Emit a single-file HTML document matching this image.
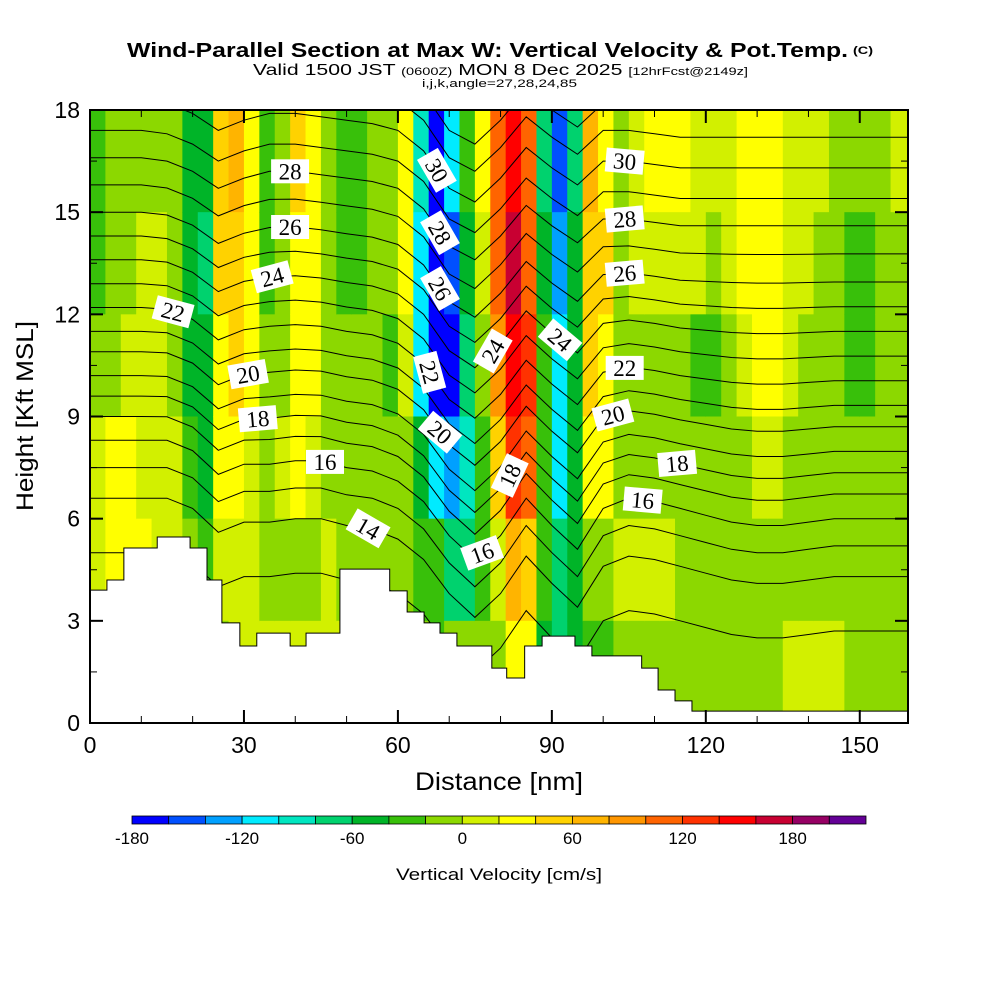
<!DOCTYPE html>
<html><head><meta charset="utf-8"><style>
html,body{margin:0;padding:0;background:#fff;}
svg{display:block;font-family:"Liberation Sans",sans-serif;}
</style></head><body>
<svg id="chart" width="1000" height="1000" viewBox="0 0 1000 1000" xmlns="http://www.w3.org/2000/svg">
<defs><clipPath id="plotclip"><rect x="90" y="110" width="818" height="613"/></clipPath></defs>
<g>
<text x="127" y="57" font-size="20" font-weight="bold" textLength="721" lengthAdjust="spacingAndGlyphs">Wind-Parallel Section at Max W: Vertical Velocity &amp; Pot.Temp.</text>
<text x="853" y="54" font-size="11" font-weight="bold" textLength="20" lengthAdjust="spacingAndGlyphs">(C)</text>
<text x="253" y="75" font-size="16" textLength="495" lengthAdjust="spacingAndGlyphs">Valid 1500 JST <tspan font-size="11">(0600Z)</tspan> MON 8 Dec 2025 <tspan font-size="11">[12hrFcst@2149z]</tspan></text>
<text x="422" y="87" font-size="11" textLength="155" lengthAdjust="spacingAndGlyphs">i,j,k,angle=27,28,24,85</text>
</g>
<g id="cells" clip-path="url(#plotclip)"></g>
<g id="lines" clip-path="url(#plotclip)"></g>
<g id="terrain" clip-path="url(#plotclip)"></g>
<g id="labels" clip-path="url(#plotclip)"></g>
<rect x="90" y="110" width="818" height="613" fill="none" stroke="#000" stroke-width="2"/>
<g id="axes"></g>
<text x="499" y="790" font-size="25" text-anchor="middle" textLength="168" lengthAdjust="spacingAndGlyphs">Distance [nm]</text>
<text transform="translate(33,416) rotate(-90)" font-size="24" text-anchor="middle" textLength="190" lengthAdjust="spacingAndGlyphs">Height [Kft MSL]</text>
<g id="cbar"></g>
<text x="499" y="880" font-size="17" text-anchor="middle" textLength="206" lengthAdjust="spacingAndGlyphs">Vertical Velocity [cm/s]</text>
</svg>
<script>
// ---- data ----
const colWidthNm = 3;
const rowTopsKft = [18,15,12,9,6,3];
const wCols = [
[-30,-30,-10,0,10,10],[-10,-10,-5,25,25,10],[-10,-5,5,25,25,10],[-10,5,5,10,25,10],
[-10,10,10,10,10,10],[-20,-10,-10,5,5,5],[-50,-60,-50,-30,-20,-30],[-50,-70,-60,-50,-40,-40],
[50,40,30,20,5,-20],[60,50,40,30,10,5],[20,20,20,10,0,0],[-40,-30,-20,-10,-10,5],
[-20,-20,-10,0,-10,5],[50,30,30,20,-10,5],[30,20,20,10,-10,10],[-10,-10,-10,-10,5,0],
[-40,-30,-20,-10,-10,0],[-40,-30,-20,-20,-10,-10],[-10,-10,-10,-10,-15,-10],[-10,-20,-30,-20,-20,-30],
[30,20,10,-10,-20,-20],[-100,-110,-120,-60,-40,-20],[-170,-180,-170,-120,-40,-30],[-120,-150,-180,-140,-80,-20],
[-40,-50,-80,-100,-70,-20],[30,10,-20,-30,-30,-10],[110,100,80,40,10,-5],[150,165,150,120,60,30],
[100,110,120,100,50,30],[-80,-60,-40,-30,-30,-50],[-150,-140,-120,-110,-70,-80],[-80,-60,-50,-50,-50,-60],
[60,50,40,20,-10,-40],[30,40,30,20,-5,-30],[-20,-10,-10,-10,0,-20],[10,0,-10,-10,5,-10],
[25,5,-10,-10,5,-10],[25,5,-10,-10,5,-10],[25,10,-10,-10,-10,-10],[10,10,-30,-10,-10,-10],
[10,-10,-30,-10,-10,-10],[10,10,-10,-10,-10,-10],[30,30,10,-10,-10,-10],[30,30,20,10,-10,-10],
[30,30,25,10,-10,-10],[10,10,10,-10,-10,5],[10,5,-10,-10,-10,5],[5,-10,-10,-10,-10,5],
[-10,-10,-10,-10,-10,5],[-10,-30,-30,-10,-10,-10],[-10,-30,-30,-10,-10,-10],[-10,-10,-10,-10,-10,-10],
[5,-10,-10,-10,-10,-10]
];
const binColors = ["#0000ff","#0050ff","#00a0ff","#00ebff","#00e6c0","#00d26e","#00b428","#38c00a","#8cd800","#d2f000",
"#ffff00","#ffd200","#ffb400","#ff9600","#ff6400","#ff3200","#ff0000","#c80032","#960064","#640096"];
const binStart = -180, binStep = 20;
const cbarLabels = [-180,-120,-60,0,60,120,180];
const terrainEdges = [0,3.3,6.6,13.1,19.5,22.8,25.7,29.2,32.5,39,42.1,48.7,58.4,61.8,65.1,68.2,71.5,78.3,81.2,84.7,88.1,94.5,97.8,107.5,110.7,114,117.3,160];
const terrainH = [3.9,4.2,5.14,5.46,5.14,4.2,2.94,2.26,2.64,2.26,2.64,4.52,3.88,3.26,2.94,2.64,2.26,1.61,1.32,2.26,2.55,2.26,1.97,1.61,0.97,0.65,0.35];
const thetaLevels = [13,14,15,16,17,18,19,20,21,22,23,24,25,26,27,28,29,30,31,32];
const thetaBase = [3.0,4.6,5.5,6.3,7.0,7.6,8.2,8.9,9.5,10.2,10.9,11.6,12.3,13.0,13.8,14.6,15.4,16.3,17.2,18.0];
const dispNodes = [0,5,10,15,20,25,30,35,40,45,50,55,60,65,70,75,80,85,90,95,100,105,110,115,120,125,130,135,140,145,150,155,160];
const dispLow = [2.0,2.0,2.0,2.0,1.7,1.0,1.3,1.3,1.4,1.4,1.2,1.1,0.8,0.2,-0.8,-1.5,-0.8,0.3,-0.5,-1.2,0.0,0.3,0.2,0.0,-0.2,-0.4,-0.5,-0.5,-0.4,-0.3,-0.3,-0.3,-0.3];
const dispHigh = [2.0,2.0,2.0,1.9,1.6,1.1,1.4,1.6,1.6,1.5,1.4,1.3,1.1,0.5,-0.6,-1.0,-0.3,0.6,0.0,-0.5,0.2,0.2,0.1,0,0,0,0,0,0,0,0,0,0];
const labelTheta = [28,26,24,22,20,18,16,14,30,28,26,22,20,24,18,16,24,30,28,26,22,20,18,16];
const labelNm = [39,39,35.5,16.2,30.8,32.7,45.8,54.2,67.6,68.2,68.2,66.2,68.2,78.5,81.8,76.4,91.6,104.2,104.2,104.2,104.2,101.9,114.4,107.7];
const labelAngle = [0,0,-15,15,-10,-5,0,30,60,60,60,75,40,-60,-65,-20,40,5,-5,-5,0,-15,-5,5];
const xTicksMajor = [0,30,60,90,120,150];
const yTicksMajor = [0,3,6,9,12,15,18];

// ---- scales ----
const X0=90,X1=908,Y0=723,Y1=110, XMAX=159.4, YMAX=18;
const xs = v => X0 + v*(X1-X0)/XMAX;
const ys = v => Y0 - v*(Y0-Y1)/YMAX;
const NS="http://www.w3.org/2000/svg";
function mk(tag, attrs, parent){const e=document.createElementNS(NS,tag);for(const k in attrs)e.setAttribute(k,attrs[k]);parent.appendChild(e);return e;}
function colorFor(w){let b=Math.floor((w-binStart)/binStep);b=Math.max(0,Math.min(binColors.length-1,b));return binColors[b];}

// cells
const gc=document.getElementById('cells');
wCols.forEach((col,i)=>{
  col.forEach((w,r)=>{
    const x0=xs(i*colWidthNm), x1=xs((i+1)*colWidthNm)+(i===wCols.length-1?20:0);
    const y0=ys(rowTopsKft[r]), y1=ys(rowTopsKft[r]-3);
    const e=mk('rect',{x:x0,y:y0,width:x1-x0+0.6,height:y1-y0+0.6,fill:colorFor(w)},gc);
    
    
  });
});

// isentropes
function lineHeight(li, nm){
  const th=thetaLevels[li];
  const f=Math.max(0,Math.min(1,(th-16)/12));
  let k=0; while(k<dispNodes.length-2 && nm>dispNodes[k+1]) k++;
  const t=(nm-dispNodes[k])/(dispNodes[k+1]-dispNodes[k]);
  const lo=dispLow[k]+(dispLow[k+1]-dispLow[k])*t;
  const hi=dispHigh[k]+(dispHigh[k+1]-dispHigh[k])*t;
  return thetaBase[li]+lo*(1-f)+hi*f;
}
const gl=document.getElementById('lines');
thetaLevels.forEach((th,li)=>{
  const pts=dispNodes.map(n=>xs(n).toFixed(1)+','+ys(lineHeight(li,n)).toFixed(1)).join(' ');
  const e=mk('polyline',{points:pts,fill:'none',stroke:'#000','stroke-width':1},gl);
  
  
});

// terrain
const gt=document.getElementById('terrain');
let d='M'+xs(0)+','+ys(0);
terrainH.forEach((h,i)=>{d+=' L'+xs(terrainEdges[i])+','+ys(h)+' L'+xs(terrainEdges[i+1])+','+ys(h);});
d+=' L'+xs(160)+','+ys(0)+' Z';
const tp=mk('path',{d:d,fill:'#fff',stroke:'#000','stroke-width':1},gt);



// contour labels
const glb=document.getElementById('labels');
labelTheta.forEach((th,i)=>{
  const li=thetaLevels.indexOf(th);
  const cx=xs(labelNm[i]), cy=ys(lineHeight(li,labelNm[i]));
  const g=mk('g',{transform:`translate(${cx.toFixed(1)},${cy.toFixed(1)}) rotate(${labelAngle[i]})`},glb);
  
  
  mk('rect',{x:-19,y:-12,width:38,height:24,fill:'#fff'},g);
  const t=mk('text',{x:0,y:8,'text-anchor':'middle','font-size':23,'font-family':'"Liberation Serif",serif'},g);
  t.textContent=th;
});

// axes
const ga=document.getElementById('axes');
for(let v=0; v<=150; v+=10){
  const maj=v%30===0, L=maj?13:7;
  mk('line',{x1:xs(v),x2:xs(v),y1:Y0,y2:Y0-L,stroke:'#000','stroke-width':maj?2:1},ga);
  mk('line',{x1:xs(v),x2:xs(v),y1:Y1,y2:Y1+L,stroke:'#000','stroke-width':maj?2:1},ga);
}
xTicksMajor.forEach(v=>{
  const t=mk('text',{x:xs(v),y:753,'font-size':23,'text-anchor':'middle'},ga);
  
  
  t.textContent=v;
});
for(let v=0; v<=18; v+=1.5){
  const maj=v%3===0, L=maj?13:7;
  mk('line',{x1:X0,x2:X0+L,y1:ys(v),y2:ys(v),stroke:'#000','stroke-width':maj?2:1},ga);
  mk('line',{x1:X1,x2:X1-L,y1:ys(v),y2:ys(v),stroke:'#000','stroke-width':maj?2:1},ga);
}
yTicksMajor.forEach(v=>{
  const t=mk('text',{x:80,y:ys(v)+8,'font-size':23,'text-anchor':'end'},ga);
  
  
  t.textContent=v;
});

// colorbar
const gb=document.getElementById('cbar');
const CB0=132, CBW=36.7;
const cbx = v => CB0 + (v-binStart)/binStep*CBW;
binColors.forEach((c,i)=>{
  const r=mk('rect',{x:CB0+i*CBW,y:816,width:CBW,height:8,fill:c,stroke:'#000','stroke-width':0.8},gb);
  
  
});
cbarLabels.forEach(v=>{
  const t=mk('text',{x:cbx(v),y:844,'font-size':17,'text-anchor':'middle'},gb);
  
  
  t.textContent=v;
});
</script>
</body></html>
